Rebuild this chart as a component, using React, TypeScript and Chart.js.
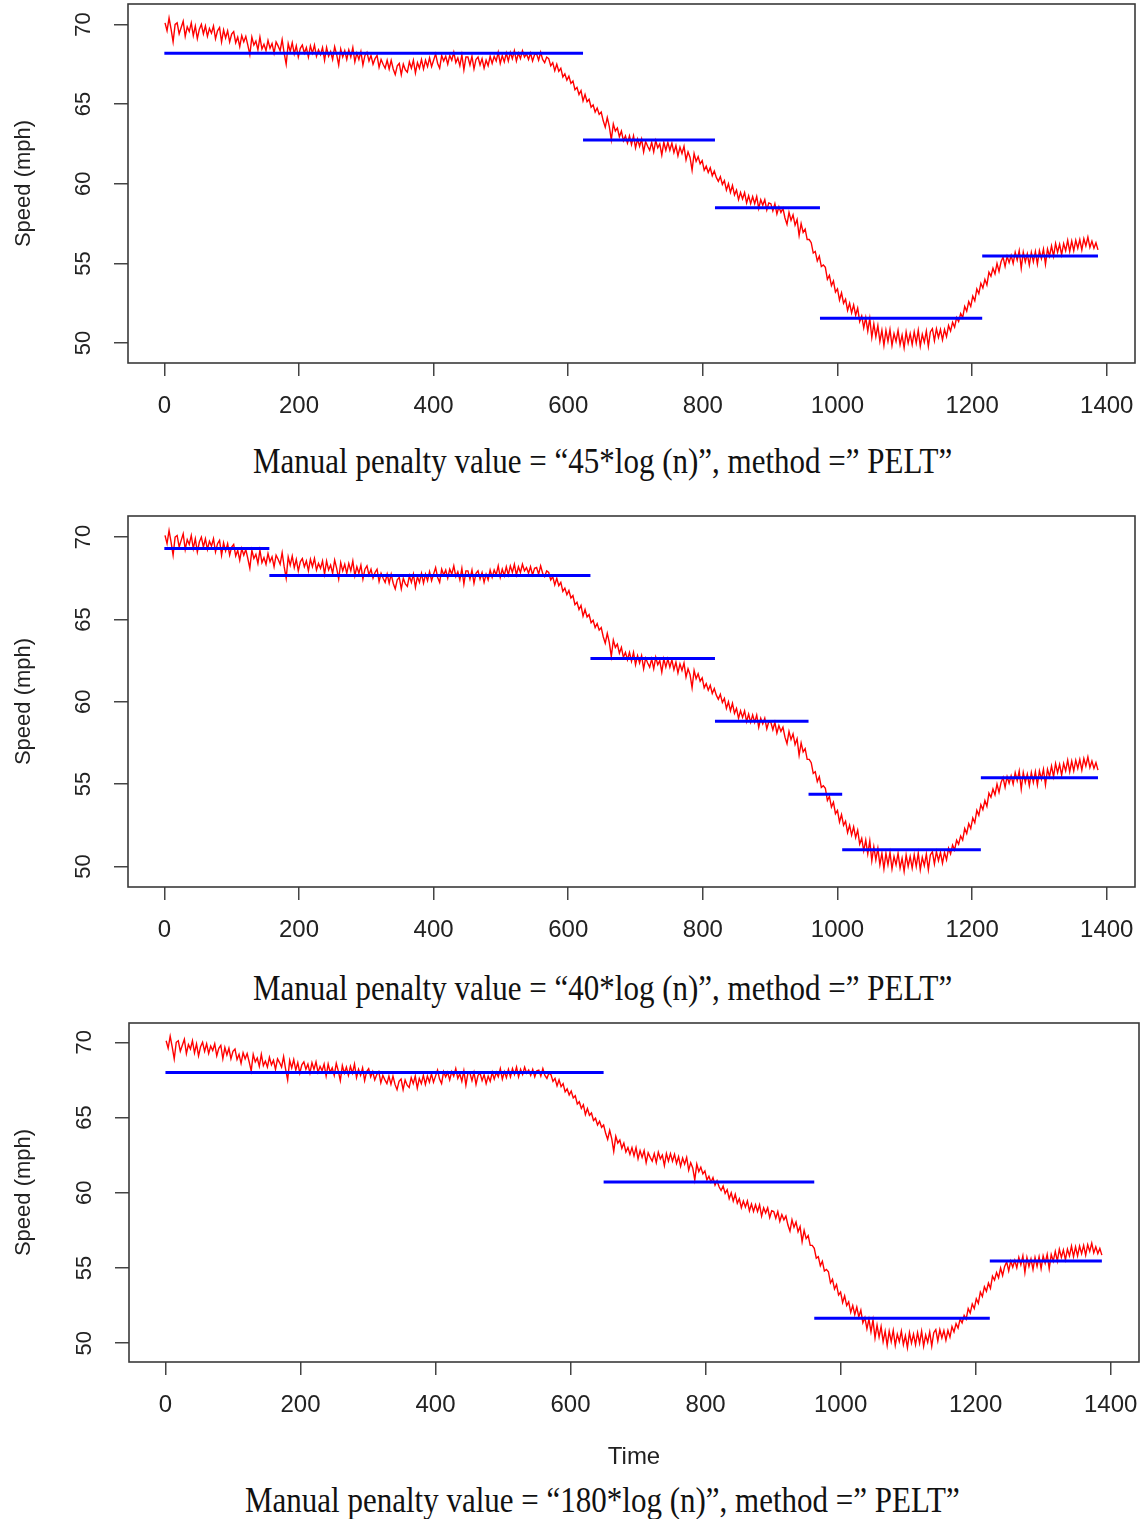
import React, { useEffect, useRef } from "react";
import { Chart, registerables } from "chart.js";

Chart.register(...registerables);

// ---------- data ----------
const timeStart = 1;
const timeStep = 3;
// speed (mph), one reading every 3 time units
const speed = [
  70.1, 69.6, 70.4, 69.7, 68.9, 70.0, 70.1, 69.4, 69.8, 70.2,
  69.25, 69.85, 69.55, 70.1, 69.3, 69.9, 69.1, 69.7, 70.0, 69.4,
  69.9, 69.25, 69.75, 69.45, 69.9, 69.1, 69.6, 69.8, 68.9, 69.65,
  69.15, 69.6, 68.9, 69.4, 69.55, 68.85, 69.2, 68.6, 69.3, 68.9,
  69.25, 68.7, 68.1, 69.2, 68.7, 68.95, 68.4, 69.2, 68.45, 68.75,
  68.35, 69.0, 68.5, 68.8, 68.2, 68.9, 68.65, 68.35, 69.05, 68.2,
  67.5, 68.8, 68.3, 68.85, 68.15, 68.65, 67.95, 68.5, 68.7, 68.2,
  68.55, 67.95, 68.65, 68.2, 68.7, 68.0, 68.4, 68.1, 68.55, 67.75,
  68.55, 68.0, 68.3, 67.8, 68.6, 68.1, 67.45, 68.45, 67.95, 68.35,
  67.8, 68.4, 67.95, 68.55, 67.65, 68.2, 67.8, 68.3, 67.45, 68.05,
  68.25, 67.7, 68.05, 67.5, 67.85, 68.05, 67.3, 67.8, 67.5, 67.25,
  67.75, 67.2, 67.75, 67.2, 66.85, 67.4, 67.55, 66.85, 67.5, 67.15,
  67.0, 67.65, 67.25, 67.75, 66.95, 67.6, 67.25, 67.8, 67.2, 67.75,
  67.35, 67.9, 67.35, 67.75, 68.15, 67.55, 67.25, 68.05, 67.7, 68.0,
  67.5, 68.05, 67.75, 68.25, 67.6, 67.9, 67.4, 68.1, 67.15, 67.95,
  67.95, 67.45, 68.0, 67.2, 67.8, 67.95, 67.45, 67.85, 67.25, 67.75,
  67.4, 68.0, 67.55, 68.0, 67.7, 68.25, 67.55, 68.05, 67.65, 68.2,
  67.7, 68.25, 67.85, 68.35, 67.7, 68.2, 67.85, 68.35, 67.95, 68.15,
  67.8, 68.2, 67.7, 68.1, 68.15, 67.75, 68.25, 67.8, 67.6, 67.95,
  67.85, 67.4, 67.6, 67.1, 67.5, 67.05, 67.25, 66.7, 66.9, 66.5,
  66.75, 66.3, 66.45, 65.9, 66.05, 65.6, 65.85, 65.2, 65.6, 65.15,
  65.3, 64.8, 64.95, 64.5, 64.75, 64.35, 64.5, 63.95, 63.55, 64.15,
  63.6, 62.75, 63.75, 63.3, 63.5, 62.95, 63.3, 62.7, 63.0, 62.55,
  63.0, 62.45, 63.0, 62.25, 62.8, 62.35, 62.8, 62.0, 62.65, 62.35,
  62.1, 62.6, 62.0, 62.7, 62.25, 62.5, 61.8, 62.6, 62.1, 62.6,
  62.1, 62.55, 61.95, 62.4, 61.75, 62.3, 61.9, 62.35, 61.5, 62.0,
  61.65, 60.85, 61.9, 61.4, 61.7, 61.25, 61.45, 60.85, 61.1, 60.7,
  61.0, 60.5, 60.8, 60.4, 60.15, 60.45, 59.95, 60.2, 59.6, 60.0,
  59.45, 59.9, 59.3, 59.6, 59.0, 59.45, 59.05, 59.45, 58.8, 59.25,
  58.75, 59.2, 58.75, 59.2, 58.45, 59.0, 58.65, 59.0, 58.35, 58.8,
  58.75, 58.3, 58.75, 58.1, 58.55, 58.2, 58.45, 57.85, 57.45, 58.2,
  57.7, 58.05, 57.4, 57.75, 56.75, 57.5, 56.95, 57.15, 56.5, 56.5,
  56.3, 55.65, 55.75, 55.15, 55.45, 54.8, 54.9, 54.75, 54.0, 54.25,
  53.6, 53.9, 53.2, 53.4, 52.7, 53.15, 52.5, 52.75, 52.05, 52.5,
  51.9, 52.4, 51.75, 52.2, 51.35, 51.7, 50.95, 51.6, 50.75, 51.55,
  50.35, 51.2, 50.4, 51.1, 50.1, 50.8, 49.85, 50.8, 50.1, 50.85,
  49.85, 50.6, 50.1, 50.8, 49.9, 50.5, 49.7, 50.7, 50.0, 50.6,
  49.9, 50.7, 50.0, 50.8, 49.8, 50.55, 50.05, 50.75, 49.8, 50.7,
  50.9, 50.15, 50.9, 50.35, 50.85, 50.2, 50.85, 50.4, 51.1, 50.75,
  51.3, 51.0, 51.6, 51.35, 51.85, 51.6, 52.3, 52.0, 52.6, 52.3,
  52.95, 52.65, 53.4, 53.1, 53.75, 53.45, 54.0, 53.65, 54.45, 54.2,
  54.7, 54.35, 55.0, 54.5, 55.1, 55.4, 54.8, 55.45, 55.05, 55.5,
  55.0, 55.7, 55.2, 55.8, 54.7, 55.7, 55.1, 55.6, 54.9, 55.7,
  55.1, 55.75, 54.95, 55.8, 55.3, 55.9, 54.95, 55.9, 55.45, 56.1,
  55.45, 56.25, 55.7, 56.2, 55.55, 56.25, 55.8, 56.45, 55.75, 56.4,
  55.8, 56.45, 55.95, 56.5, 55.85, 56.55, 56.1, 56.65, 56.0, 56.4,
  55.95, 56.3, 55.85,
];

const xTicks = [0, 200, 400, 600, 800, 1000, 1200, 1400];
const yTicks = [50, 55, 60, 65, 70];

// changepoint segments (start time, end time, segment mean)
const segStarts45 = [0, 622, 818, 974, 1215];
const segEnds45 = [622, 818, 974, 1215, 1387];
const segMeans45 = [68.19, 62.75, 58.5, 51.56, 55.46];

const segStarts40 = [0, 156, 633, 818, 957, 1007, 1213];
const segEnds40 = [156, 633, 818, 957, 1007, 1213, 1387];
const segMeans40 = [69.31, 67.67, 62.62, 58.82, 54.38, 51.01, 55.38];

const segStarts180 = [0, 649, 961, 1221];
const segEnds180 = [649, 961, 1221, 1387];
const segMeans180 = [67.99, 60.71, 51.66, 55.46];

const caption45 = "Manual penalty value = \u201C45*log (n)\u201D, method =\u201D PELT\u201D";
const caption40 = "Manual penalty value = \u201C40*log (n)\u201D, method =\u201D PELT\u201D";
const caption180 = "Manual penalty value = \u201C180*log (n)\u201D, method =\u201D PELT\u201D";

const yTitle = "Speed (mph)";
const xTitle = "Time";

// ---------- component ----------
const W = 1143;
const SANS = "Liberation Sans, Arial, sans-serif";

type Box = { l: number; t: number; r: number; b: number };

function Panel(props: {
  top: number;
  height: number;
  box: Box;
  starts: number[];
  ends: number[];
  means: number[];
  xTitleText?: string;
}) {
  const ref = useRef<HTMLCanvasElement>(null);
  useEffect(() => {
    const canvas = ref.current;
    if (!canvas) return;
    const { box, height } = props;
    const line = speed.map((v, i) => ({ x: timeStart + i * timeStep, y: v }));
    const segSets = props.starts.map((s, i) => ({
      data: [
        { x: s, y: props.means[i] },
        { x: props.ends[i], y: props.means[i] },
      ],
      borderColor: "#0000ff",
      borderWidth: 3,
      pointRadius: 0,
      order: 0,
    }));
    const framePlugin = {
      id: "frame",
      afterDraw(chart: any) {
        const { ctx, chartArea: a } = chart;
        ctx.save();
        ctx.strokeStyle = "#3a3a3a";
        ctx.lineWidth = 1.6;
        ctx.strokeRect(a.left, a.top, a.right - a.left, a.bottom - a.top);
        ctx.restore();
      },
    };
    const chart = new Chart(canvas, {
      type: "line",
      data: {
        datasets: [
          ...segSets,
          {
            data: line,
            borderColor: "#ff0000",
            borderWidth: 1.4,
            pointRadius: 0,
            order: 1,
          },
        ],
      } as any,
      options: {
        animation: false,
        responsive: false,
        devicePixelRatio: 1,
        events: [],
        layout: { padding: { left: 0, top: box.t, right: W - box.r, bottom: 0 } },
        plugins: { legend: { display: false }, tooltip: { enabled: false } },
        scales: {
          x: {
            type: "linear",
            min: -54,
            max: 1442,
            afterBuildTicks: (s: any) => {
              s.ticks = xTicks.map((v) => ({ value: v }));
            },
            afterFit: (s: any) => {
              s.height = height - box.b;
              s.paddingLeft = 0;
              s.paddingRight = 0;
            },
            grid: { drawOnChartArea: false, tickLength: 13, color: "#444", lineWidth: 1.5 },
            border: { display: false },
            ticks: {
              font: { family: SANS, size: 24 },
              color: "#222",
              padding: 16,
              maxRotation: 0,
              autoSkip: false,
              callback: (v: any) => String(v),
            },
            title: {
              display: !!props.xTitleText,
              text: props.xTitleText || "",
              font: { family: SANS, size: 24 },
              color: "#222",
              padding: { top: 0, bottom: 8 },
            },
          },
          y: {
            type: "linear",
            min: 48.75,
            max: 71.28,
            afterBuildTicks: (s: any) => {
              s.ticks = yTicks.map((v) => ({ value: v }));
            },
            afterFit: (s: any) => {
              s.width = box.l;
              s.paddingTop = 0;
              s.paddingBottom = 0;
            },
            grid: { drawOnChartArea: false, tickLength: 14, color: "#444", lineWidth: 1.5 },
            border: { display: false },
            ticks: {
              font: { family: SANS, size: 22 },
              color: "#222",
              padding: 18,
              minRotation: 90,
              maxRotation: 90,
              crossAlign: "center",
              callback: (v: any) => String(v),
            },
            title: {
              display: true,
              text: yTitle,
              font: { family: SANS, size: 22 },
              color: "#222",
              padding: { top: 11, bottom: 0 },
            },
          },
        },
      } as any,
      plugins: [framePlugin],
    });
    return () => chart.destroy();
  }, []);
  return (
    <canvas
      ref={ref}
      width={W}
      height={props.height}
      style={{ position: "absolute", left: 0, top: props.top, width: W, height: props.height }}
    />
  );
}

function Caption(props: { text: string; left: number; centerY: number }) {
  const size = 31;
  return (
    <div
      style={{
        position: "absolute",
        left: props.left,
        top: props.centerY - size / 2,
        fontFamily: "Liberation Serif, 'Times New Roman', serif",
        fontSize: size,
        lineHeight: `${size}px`,
        whiteSpace: "nowrap",
        color: "#111",
        transform: "scaleY(1.13)",
        transformOrigin: "center",
      }}
    >
      {props.text}
    </div>
  );
}

export default function App() {
  return (
    <div
      style={{
        position: "absolute",
        left: 0,
        top: 0,
        width: W,
        height: 1519,
        background: "#fff",
        overflow: "hidden",
      }}
    >
      <Panel
        top={0}
        height={440}
        box={{ l: 128, t: 4, r: 1135, b: 363 }}
        starts={segStarts45}
        ends={segEnds45}
        means={segMeans45}
      />
      <Caption text={caption45} left={253} centerY={461} />
      <Panel
        top={500}
        height={440}
        box={{ l: 128, t: 16, r: 1135, b: 387 }}
        starts={segStarts40}
        ends={segEnds40}
        means={segMeans40}
      />
      <Caption text={caption40} left={253} centerY={988} />
      <Panel
        top={1010}
        height={470}
        box={{ l: 129, t: 13, r: 1139, b: 352 }}
        starts={segStarts180}
        ends={segEnds180}
        means={segMeans180}
        xTitleText={xTitle}
      />
      <Caption text={caption180} left={245} centerY={1500} />
    </div>
  );
}
